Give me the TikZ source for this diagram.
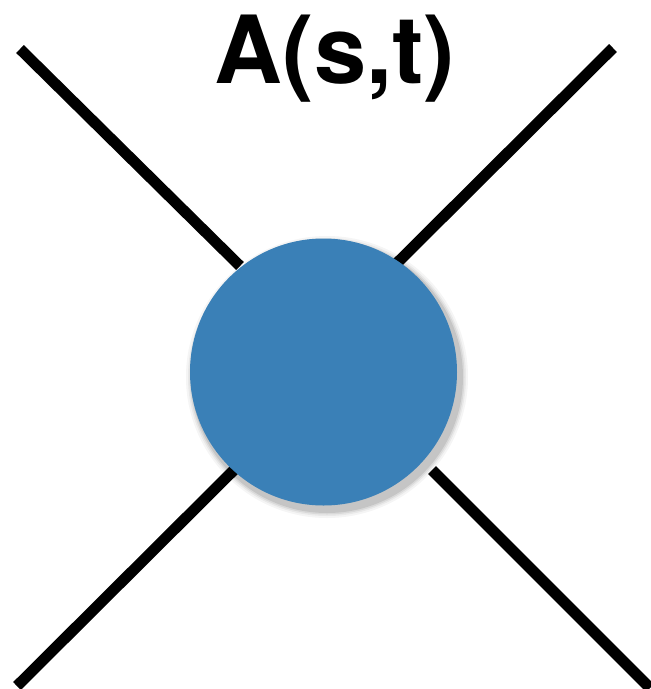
\documentclass[tikz,border=0pt]{standalone}
\usepackage{fontspec}
\setmainfont{TeX Gyre Heros}
\definecolor{blob}{HTML}{3A80B7}
\tikzset{leg/.style={line width=11pt, line cap=butt, black},
  blobstyle/.style={circle, fill=blob, minimum size=267pt, inner sep=0pt},
  shadowstyle/.style={circle, fill=black, inner sep=0pt}}
\begin{document}
\begin{tikzpicture}[x=1pt,y=-1pt]
\useasboundingbox (0,0) rectangle (651,689);
% free ends
\coordinate (ulo) at (20,49);
\coordinate (uli) at (240,266);
\coordinate (uro) at (613,48);
\coordinate (uri) at (396,264);
\coordinate (llo) at (17,686);
\coordinate (lli) at (238,466);
\coordinate (lro) at (650,688);
\coordinate (lri) at (432,470);
\draw[leg] (ulo) -- (uli);
\draw[leg] (uro) -- (uri);
\draw[leg] (llo) -- (lli);
\draw[leg] (lro) -- (lri);
% soft shadow
\foreach \r/\o in {141/0.04,139/0.05,137.5/0.07,136/0.09}
  \node[shadowstyle, minimum size=2*\r pt, opacity=\o] at (327,377) {};
\node[blobstyle] (blob) at (323.5,372) {};
\node[font=\bfseries\fontsize{94}{94}\selectfont, inner sep=0pt, anchor=base] (title) at (335,83) {A(s,t)};
\end{tikzpicture}
\end{document}
